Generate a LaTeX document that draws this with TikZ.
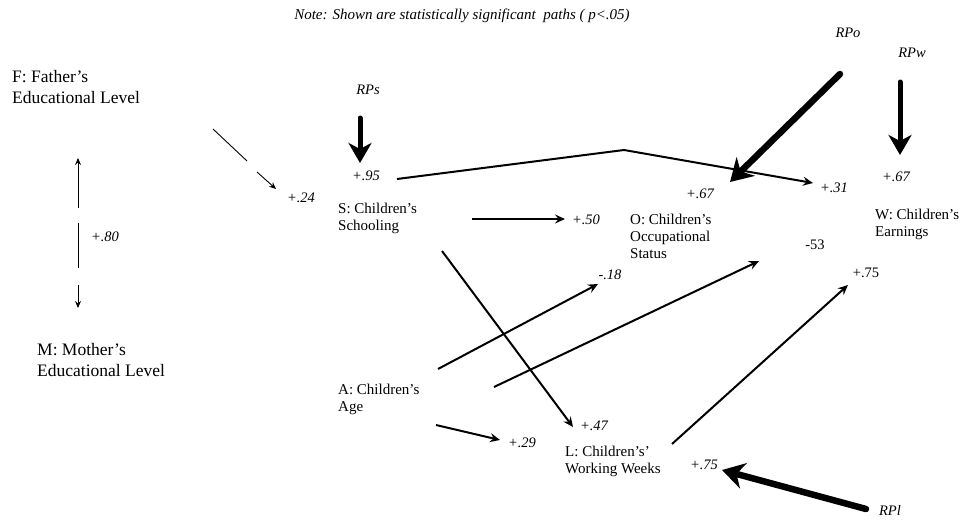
\documentclass[tikz,border=0pt]{standalone}
\usepackage{fontspec}
\setmainfont{Liberation Serif}
\usetikzlibrary{arrows.meta}

\begin{document}
\begin{tikzpicture}[x=1pt,y=-1pt,
  varlabel/.style={anchor=north west,inner sep=0pt,align=left,
    font=\fontsize{15}{17}\selectfont},
  biglabel/.style={anchor=north west,inner sep=0pt,align=left,
    font=\fontsize{17.5}{21}\selectfont},
  coef/.style={inner sep=0pt,font=\fontsize{14.5}{16}\selectfont\itshape},
  coefup/.style={inner sep=0pt,font=\fontsize{14.5}{16}\selectfont},
  resid/.style={inner sep=0pt,font=\fontsize{14.5}{16}\selectfont\itshape},
  thinpath/.style={line width=0.9pt},
  thinarrow/.style={line width=0.9pt,-{Stealth[length=7pt,width=6pt,inset=2.5pt]}},
  pathline/.style={line width=2pt},
  patharrow/.style={line width=2pt,-{Stealth[length=10pt,width=9pt,inset=3.5pt]}},
  residarrow/.style={line width=5pt,line cap=round,-{Stealth[length=20pt,width=23pt,inset=6pt]}},
  heavyarrow/.style={line width=6.5pt,line cap=round,-{Stealth[length=22pt,width=26pt,inset=7pt]}}
]
\useasboundingbox (0,0) rectangle (969,522);

% note
\node[inner sep=0pt,font=\fontsize{15}{17}\selectfont\itshape] (note) at (462,16)
  {Note: Shown are statistically significant\ \ paths ( p<.05)};

% variables
\node[biglabel] (F) at (12,70) {F: Father’s\\Educational Level};
\node[biglabel] (M) at (37,343) {M: Mother’s\\Educational Level};
\node[varlabel] (S) at (338,203) {S: Children’s\\Schooling};
\node[varlabel] (O) at (630,214) {O: Children’s\\Occupational\\Status};
\node[varlabel] (W) at (875,209) {W: Children’s\\Earnings};
\node[varlabel] (A) at (338,384) {A: Children’s\\Age};
\node[varlabel] (L) at (565,446) {L: Children’s’\\Working Weeks};

% residual labels
\node[resid] (RPs) at (368,90) {RPs};
\node[resid] (RPo) at (848,33) {RPo};
\node[resid] (RPw) at (912,53) {RPw};
\node[resid] (RPl) at (890,510) {RPl};

% coefficients
\node[coef] (c95) at (366,176) {+.95};
\node[coef] (c24) at (301,198) {+.24};
\node[coef] (c80) at (105,237) {+.80};
\node[coef] (c67w) at (896,177) {+.67};
\node[coef] (c31) at (834,188) {+.31};
\node[coef] (c67o) at (700,194) {+.67};
\node[coef] (c50) at (586,220) {+.50};
\node[coefup] (c53) at (815,245) {-53};
\node[coef] (c18) at (610,275) {-.18};
\node[coefup] (c75w) at (866,273) {+.75};
\node[coef] (c47) at (594,426) {+.47};
\node[coef] (c29) at (522,443) {+.29};
\node[coef] (c75l) at (704,465) {+.75};

% connector end points
\coordinate (fs1) at (213,129);
\coordinate (fs2) at (247,161);
\coordinate (fs3) at (257,172);
\coordinate (fs4) at (276,189);
\coordinate (fm1) at (78,208);
\coordinate (fm2) at (78,158);
\coordinate (fm3) at (78,223);
\coordinate (fm4) at (78,268);
\coordinate (fm5) at (78,285);
\coordinate (fm6) at (78,308);
\coordinate (rps1) at (360,118);
\coordinate (rps2) at (360,163);
\coordinate (sw1) at (397,179);
\coordinate (sw2) at (624,150);
\coordinate (sw3) at (813,183);
\coordinate (rpo1) at (840,74);
\coordinate (rpo2) at (730,182);
\coordinate (rpw1) at (900,82);
\coordinate (rpw2) at (900,155);
\coordinate (so1) at (472,219);
\coordinate (so2) at (565,219);
\coordinate (sl1) at (442,251);
\coordinate (sl2) at (573,427);
\coordinate (ao1) at (438,369);
\coordinate (ao2) at (598,284);
\coordinate (aw1) at (494,387);
\coordinate (aw2) at (759,261);
\coordinate (al1) at (436,425);
\coordinate (al2) at (500,440);
\coordinate (lw1) at (672,444);
\coordinate (lw2) at (848,285);
\coordinate (rpl1) at (866,509);
\coordinate (rpl2) at (722,470);

% F -- M correlation
\draw[thinarrow] (fm1) -- (fm2);
\draw[thinpath] (fm3) -- (fm4);
\draw[thinarrow] (fm5) -- (fm6);

% F -> S
\draw[thinpath] (fs1) -- (fs2);
\draw[thinarrow] (fs3) -- (fs4);

% paths
\draw[patharrow] (sw1) -- (sw2) -- (sw3);
\draw[patharrow] (so1) -- (so2);
\draw[patharrow] (sl1) -- (sl2);
\draw[patharrow] (ao1) -- (ao2);
\draw[patharrow] (aw1) -- (aw2);
\draw[patharrow] (al1) -- (al2);
\draw[patharrow] (lw1) -- (lw2);

% residual paths
\draw[residarrow] (rps1) -- (rps2);
\draw[residarrow] (rpw1) -- (rpw2);
\draw[heavyarrow] (rpo1) -- (rpo2);
\draw[heavyarrow] (rpl1) -- (rpl2);
\end{tikzpicture}
\end{document}
